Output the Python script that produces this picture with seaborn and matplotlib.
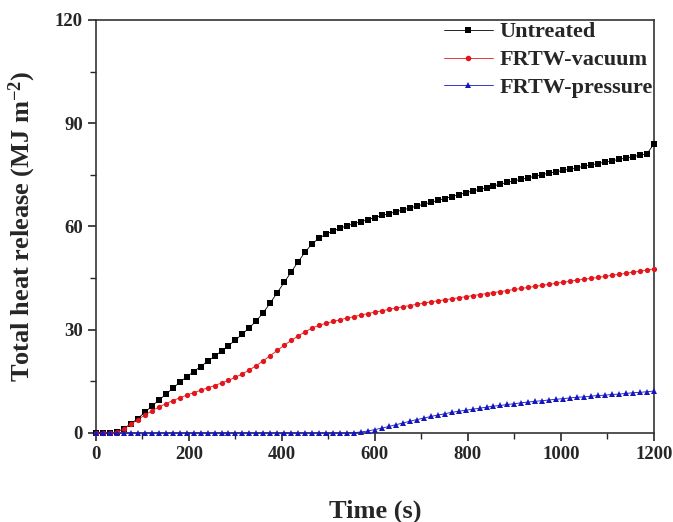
import pandas as pd
import matplotlib
matplotlib.use("Agg")
import matplotlib.pyplot as plt
import seaborn as sns
from matplotlib.ticker import MultipleLocator

# time axis (s), sampled every 15 s
time = [0, 15, 30, 45, 60, 75, 90, 105, 120, 135, 150, 165, 180, 195, 210, 225,
        240, 255, 270, 285, 300, 315, 330, 345, 360, 375, 390, 405, 420, 435, 450,
        465, 480, 495, 510, 525, 540, 555, 570, 585, 600, 615, 630, 645, 660, 675,
        690, 705, 720, 735, 750, 765, 780, 795, 810, 825, 840, 855, 870, 885, 900,
        915, 930, 945, 960, 975, 990, 1005, 1020, 1035, 1050, 1065, 1080, 1095,
        1110, 1125, 1140, 1155, 1170, 1185, 1200]

untreated = [0, 0, 0, 0.3, 1.3, 2.7, 4.2, 6.0, 7.8, 9.5, 11.2, 13.0, 14.7, 16.3,
             17.8, 19.3, 20.8, 22.3, 23.8, 25.4, 27.0, 28.8, 30.6, 32.6, 35.0,
             37.8, 40.8, 43.8, 46.8, 49.8, 52.6, 55.0, 56.6, 57.8, 58.7, 59.5,
             60.2, 60.8, 61.4, 62.0, 62.6, 63.2, 63.7, 64.3, 64.8, 65.4, 65.9,
             66.5, 67.0, 67.6, 68.1, 68.7, 69.2, 69.8, 70.3, 70.8, 71.3, 71.8,
             72.3, 72.8, 73.3, 73.7, 74.2, 74.6, 75.1, 75.5, 75.9, 76.3, 76.7,
             77.1, 77.5, 77.9, 78.3, 78.7, 79.1, 79.5, 79.9, 80.3, 80.7, 81.1, 84.0]

frtw_vacuum = [0, 0, 0, 0.2, 1.2, 2.5, 3.9, 5.2, 6.4, 7.5, 8.5, 9.4, 10.2, 11.0,
               11.7, 12.4, 13.1, 13.8, 14.5, 15.3, 16.2, 17.2, 18.3, 19.6, 21.0,
               22.5, 24.0, 25.5, 26.9, 28.2, 29.4, 30.5, 31.3, 31.9, 32.4, 32.9,
               33.4, 33.8, 34.3, 34.7, 35.1, 35.5, 35.9, 36.3, 36.7, 37.0, 37.4,
               37.7, 38.1, 38.4, 38.7, 39.0, 39.3, 39.6, 39.9, 40.2, 40.5, 40.8,
               41.1, 41.4, 41.7, 42.0, 42.3, 42.6, 42.9, 43.2, 43.5, 43.8, 44.1,
               44.4, 44.7, 44.9, 45.2, 45.5, 45.8, 46.1, 46.4, 46.7, 47.0, 47.3, 47.7]

frtw_pressure = [0, 0, 0, 0, 0, 0, 0, 0, 0, 0, 0, 0, 0, 0, 0, 0, 0, 0, 0, 0, 0,
                 0, 0, 0, 0, 0, 0, 0, 0, 0, 0, 0, 0, 0, 0, 0, 0, 0.1, 0.3, 0.6,
                 1.0, 1.4, 1.9, 2.4, 2.9, 3.4, 3.9, 4.3, 4.8, 5.2, 5.6, 6.0, 6.3,
                 6.6, 6.9, 7.2, 7.5, 7.8, 8.0, 8.3, 8.5, 8.8, 9.0, 9.2, 9.4, 9.6,
                 9.8, 10.0, 10.2, 10.4, 10.5, 10.7, 10.9, 11.0, 11.2, 11.3, 11.5,
                 11.7, 11.8, 12.0, 12.2]

labels = ["Untreated", "FRTW-vacuum", "FRTW-pressure"]
colors = ["#000000", "#e3161c", "#1616c0"]
marks = ["s", "o", "^"]

df = pd.DataFrame({
    "Time": time * 3,
    "THR": untreated + frtw_vacuum + frtw_pressure,
    "Sample": [labels[0]] * len(time) + [labels[1]] * len(time) + [labels[2]] * len(time),
})

sns.set_style("ticks")
plt.rcParams["font.family"] = ["Liberation Serif", "DejaVu Serif"]
plt.rcParams["font.weight"] = "bold"
plt.rcParams["mathtext.default"] = "regular"

fig = plt.figure(figsize=(6.73, 5.22), dpi=100)
ax = fig.add_axes([0.1426, 0.1705, 0.8290, 0.7912])

sns.lineplot(data=df, x="Time", y="THR", hue="Sample", style="Sample",
             hue_order=labels, style_order=labels,
             palette=dict(zip(labels, colors)), markers=dict(zip(labels, marks)),
             dashes=False, markersize=3.8, markeredgewidth=0, linewidth=0.6,
             ax=ax, clip_on=False, zorder=3)

ax.set_xlim(0, 1200)
ax.set_ylim(0, 120)
ax.xaxis.set_major_locator(MultipleLocator(200))
ax.xaxis.set_minor_locator(MultipleLocator(100))
ax.yaxis.set_major_locator(MultipleLocator(30))
ax.yaxis.set_minor_locator(MultipleLocator(15))
ax.tick_params(which="major", direction="out", length=6, width=1.2, labelsize=13.5,
               top=False, right=False)
ax.tick_params(which="minor", direction="out", length=4, width=1.0,
               top=False, right=False)
for lab in ax.get_xticklabels() + ax.get_yticklabels():
    lab.set_fontweight("bold")
for sp in ax.spines.values():
    sp.set_visible(True)
    sp.set_linewidth(1.2)
    sp.set_color("#333333")

ax.set_xlabel("Time (s)", fontsize=19, fontweight="bold", labelpad=26)
ax.set_ylabel("Total heat release (MJ m$^{-2}$)", fontsize=19,
              fontweight="bold", labelpad=12)

leg = ax.legend(loc="upper right", frameon=False, fontsize=16,
                handlelength=2.2, handletextpad=0.3, borderaxespad=0.0,
                labelspacing=0.33, borderpad=0.05, bbox_to_anchor=(1.0, 0.998))
for t in leg.get_texts():
    t.set_fontweight("bold")
for h in leg.legend_handles:
    h.set_markersize(4)

fig.savefig("out.png", dpi=100)
